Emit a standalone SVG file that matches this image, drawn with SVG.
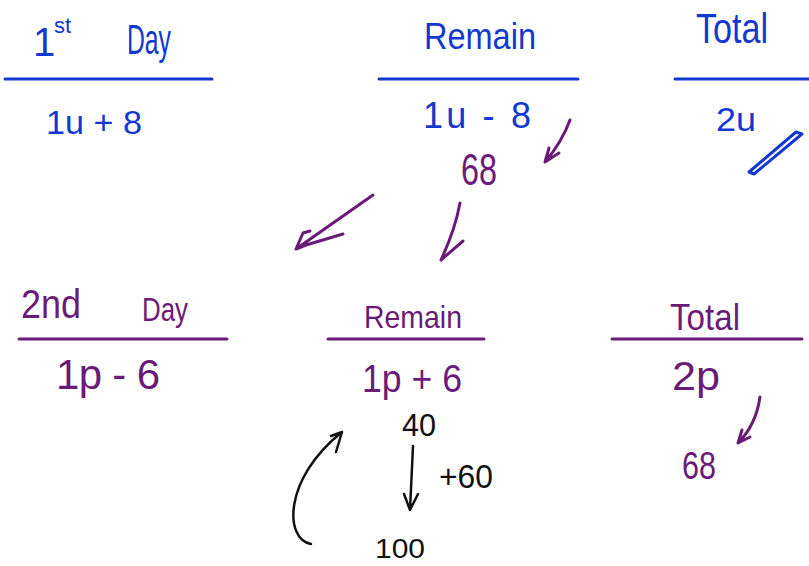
<svg xmlns="http://www.w3.org/2000/svg" width="809" height="566" viewBox="0 0 809 566">
<defs>
<style>
.t{font-family:"Liberation Sans",Arial,sans-serif;}
.b{fill:#1238d0;}
.p{fill:#6a1b78;}
.k{fill:#111;}
.lb{stroke:#1238d0;stroke-width:3;fill:none;stroke-linecap:round;stroke-linejoin:round;}
.lp{stroke:#6a1b78;stroke-width:3;fill:none;stroke-linecap:round;stroke-linejoin:round;}
.lk{stroke:#111;stroke-width:2.5;fill:none;stroke-linecap:round;stroke-linejoin:round;}
</style>
</defs>
<rect width="809" height="566" fill="#fff"/>

<g id="day1">
<text class="t b" x="33" y="56" font-size="40">1</text>
<text class="t b" x="54" y="33" font-size="22">st</text>
<text class="t b" x="127" y="54" font-size="42" textLength="44" lengthAdjust="spacingAndGlyphs">Day</text>
<line class="lb" x1="5" y1="79" x2="212" y2="79"/>
<text class="t b" x="46" y="134" font-size="34" textLength="96" lengthAdjust="spacingAndGlyphs">1u + 8</text>
</g>

<g id="remain1">
<text class="t b" x="424" y="49" font-size="36" textLength="112" lengthAdjust="spacingAndGlyphs">Remain</text>
<line class="lb" x1="379" y1="79" x2="578" y2="79"/>
<text class="t b" x="423" y="128" font-size="36" textLength="108" lengthAdjust="spacing">1u - 8</text>
</g>

<g id="total1">
<text class="t b" x="696" y="43" font-size="42" textLength="72" lengthAdjust="spacingAndGlyphs">Total</text>
<line class="lb" x1="675" y1="79" x2="809" y2="79"/>
<text class="t b" x="716" y="131" font-size="34" textLength="40" lengthAdjust="spacingAndGlyphs">2u</text>
</g>

<g id="val68a">
<text class="t p" x="461" y="185" font-size="44" textLength="36" lengthAdjust="spacingAndGlyphs">68</text>
</g>

<g id="day2">
<text class="t p" x="21" y="318" font-size="40" textLength="60" lengthAdjust="spacingAndGlyphs">2nd</text>
<text class="t p" x="142" y="321" font-size="34" textLength="46" lengthAdjust="spacingAndGlyphs">Day</text>
<line class="lp" x1="19" y1="339" x2="227" y2="339"/>
<text class="t p" x="56" y="389" font-size="42" textLength="104" lengthAdjust="spacing">1p - 6</text>
</g>

<g id="remain2">
<text class="t p" x="364" y="328" font-size="32" textLength="98" lengthAdjust="spacingAndGlyphs">Remain</text>
<line class="lp" x1="328" y1="339" x2="484" y2="339"/>
<text class="t p" x="362" y="392" font-size="38" textLength="100" lengthAdjust="spacingAndGlyphs">1p + 6</text>
</g>

<g id="total2">
<text class="t p" x="670" y="330" font-size="36" textLength="70" lengthAdjust="spacingAndGlyphs">Total</text>
<line class="lp" x1="612" y1="339" x2="802" y2="339"/>
<text class="t p" x="672" y="390" font-size="40" textLength="48" lengthAdjust="spacingAndGlyphs">2p</text>
</g>

<g id="val68b">
<text class="t p" x="682" y="479" font-size="38" textLength="34" lengthAdjust="spacingAndGlyphs">68</text>
</g>

<g id="val40">
<text class="t k" x="402" y="436" font-size="32" textLength="34" lengthAdjust="spacingAndGlyphs">40</text>
</g>
<g id="plus60">
<text class="t k" x="439" y="488" font-size="34" textLength="54" lengthAdjust="spacingAndGlyphs">+60</text>
</g>
<g id="val100">
<text class="t k" x="375" y="558" font-size="28" textLength="50" lengthAdjust="spacingAndGlyphs">100</text>
</g>

<g id="connectors">
<path class="lp" d="M570 120 Q562 142 545 162 M545 162 L549 148 M545 162 L559 153"/>
<path class="lp" d="M373 195 L296 249 M296 249 L303 233 L310 231 M296 249 L306 245 L343 234"/>
<path class="lp" d="M460 203 Q455 230 441 260 M441 260 L463 241"/>
<path class="lp" d="M760 397 Q756 425 738 443 M738 443 L742 430 M738 443 L750 437"/>
<path class="lb" d="M749 172 L796 132 L802 134 L754 174 Z"/>
<path class="lk" d="M413 446 L410 510 M410 510 L404 494 M410 510 L418 494"/>
<path class="lk" d="M311 544 C285 540 282 480 342 432 M342 432 L331 436 M342 432 L336 452"/>
</g>
</svg>
